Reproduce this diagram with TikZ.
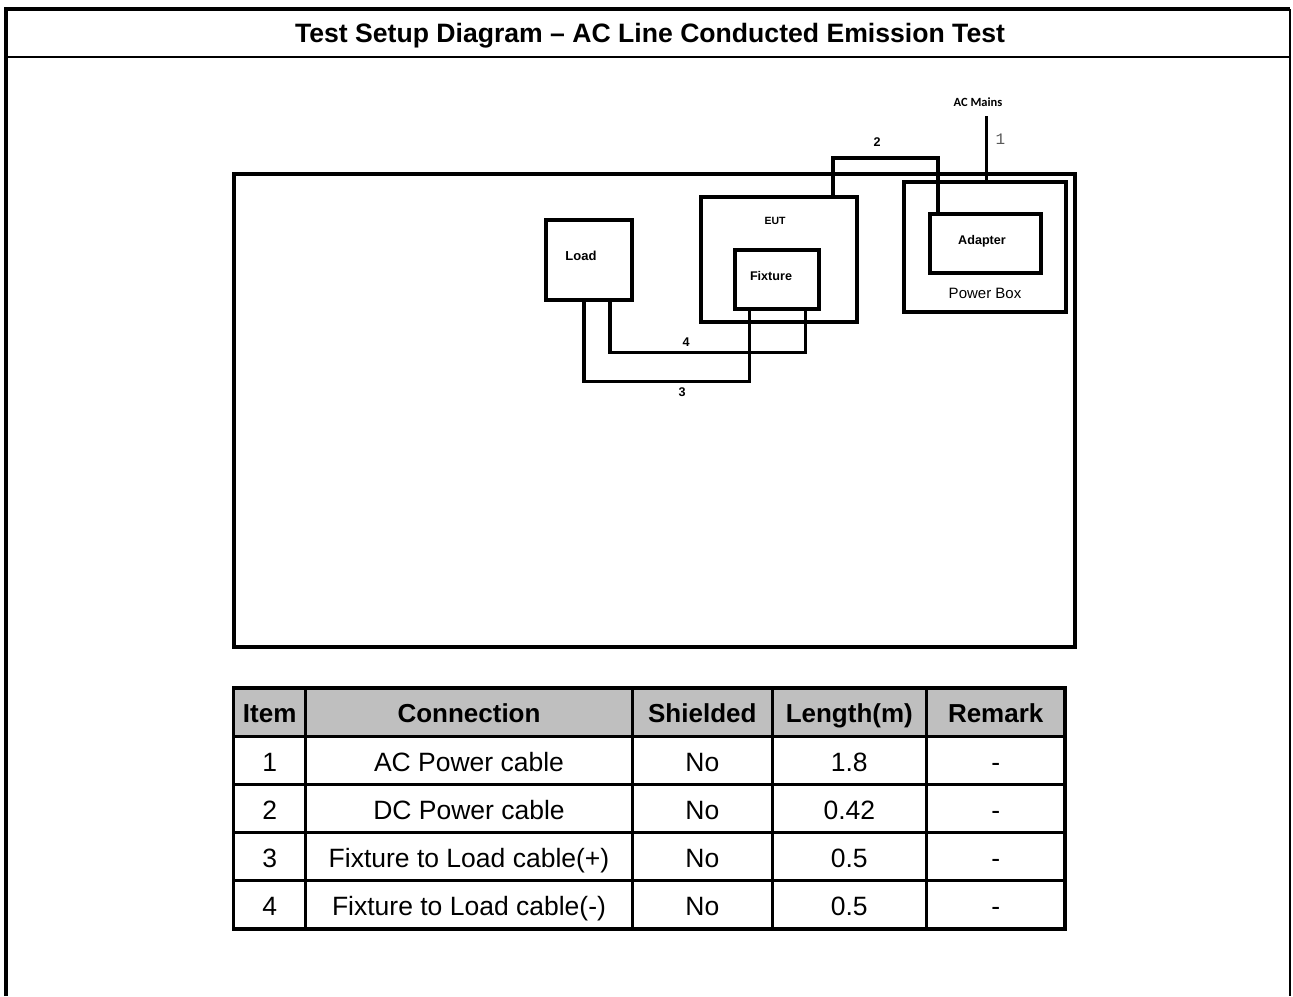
\documentclass[tikz,border=0pt]{standalone}
\usepackage{fontspec}
\setmainfont{Liberation Sans}
\newfontfamily\mainsfont{Carlito}
\newfontfamily\wirefont{Liberation Mono}

\tikzset{
  unitbox/.style={draw,line width=3.5pt,inner sep=0pt},
  cable/.style={line width=3.5pt},
  tag/.style={font=\bfseries\fontsize{12.6}{14}\selectfont,inner sep=0pt},
  wirenum/.style={font=\wirefont\fontsize{16}{18}\selectfont,text=black!65,inner sep=0pt},
  head/.style={anchor=base,font=\bfseries\fontsize{26}{30}\selectfont,inner sep=0pt},
  cell/.style={anchor=base,font=\fontsize{26.5}{30}\selectfont,inner sep=0pt}
}

\begin{document}
\begin{tikzpicture}[x=1pt,y=-1pt,line join=miter]
  \useasboundingbox (0,0) rectangle (1293,996);
  % frame and title
  \draw[line width=4pt] (6,996) -- (6,9) -- (1290,9);
  \draw[line width=2.5pt] (1290,9) -- (1290,996);
  \draw[line width=2.5pt] (6,57) -- (1290,57);
  \node[anchor=base,font=\bfseries\fontsize{26.6}{30}\selectfont,inner sep=0pt] (title) at (650,42) {Test Setup Diagram – AC Line Conducted Emission Test};

  % test table with the units on it
  \node[unitbox,minimum width=841pt,minimum height=473pt] (plane) at (654.5,410.5) {};
  \node[unitbox,minimum width=162pt,minimum height=130pt] (powerbox) at (985,247) {};
  \node[unitbox,minimum width=111pt,minimum height=59pt] (adapter) at (985.5,243.5) {};
  \node[unitbox,minimum width=156pt,minimum height=125pt] (eut) at (779,259.5) {};
  \node[unitbox,minimum width=84pt,minimum height=59pt] (fixture) at (777,279.5) {};
  \node[unitbox,minimum width=86pt,minimum height=80pt] (load) at (589,260) {};

  \node[tag] (adapterlbl) at (982,241) {Adapter};
  \node[font=\fontsize{15}{17}\selectfont,inner sep=0pt] (powerlbl) at (985,293) {Power Box};
  \node[tag,font=\bfseries\fontsize{10.5}{12}\selectfont] (eutlbl) at (775,221) {EUT};
  \node[tag] (fixturelbl) at (771,276) {Fixture};
  \node[tag,font=\bfseries\fontsize{13}{15}\selectfont] (loadlbl) at (581,256) {Load};
  \node[font=\mainsfont\bfseries\fontsize{12.5}{14}\selectfont,inner sep=0pt] (mainslbl) at (978,102.5) {AC Mains};

  % cables
  \coordinate (mains) at (986.5,116);
  \draw[cable] (mains) -- (mains |- powerbox.north);
  \coordinate (c2l) at (833,158);
  \coordinate (c2r) at (938,158);
  \draw[cable] (c2l |- eut.north) -- (c2l) -- (c2r) -- (c2r |- adapter.north);
  \coordinate (c4l) at (610,352.5);
  \coordinate (c4r) at (805.5,352.5);
  \draw[cable] (c4l |- load.south) -- (c4l) -- (c4r) -- (c4r |- fixture.south);
  \coordinate (c3l) at (584,381.5);
  \coordinate (c3r) at (749.5,381.5);
  \draw[cable] (c3l |- load.south) -- (c3l) -- (c3r) -- (c3r |- fixture.south);

  \node[wirenum] (w1) at (1000.5,139) {1};
  \node[tag] (w2) at (877,142.5) {2};
  \node[tag] (w4) at (686,342) {4};
  \node[tag] (w3) at (682,392) {3};

  % cable list
  \fill[black!25] (233.7,688) rectangle (1065,736);
  \foreach \y in {736,784,832,880}
    \draw[line width=3pt] (233.7,\y) -- (1065,\y);
  \foreach \x in {305.7,632.3,772.3,926.3}
    \draw[line width=3pt] (\x,688) -- (\x,929);
  \draw[line width=3.5pt] (233.7,688) rectangle (1065,929);

  \node[head] (item0) at (269.7,722) {Item};
  \node[head] (conn0) at (469,722) {Connection};
  \node[head] (shield0) at (702.3,722) {Shielded};
  \node[head] (len0) at (849.3,722) {Length(m)};
  \node[head] (rem0) at (995.7,722) {Remark};
  \foreach \i/\y/\conn/\len in {1/771.5/AC Power cable/1.8,
                                 2/819.5/DC Power cable/0.42,
                                 3/867.5/Fixture to Load cable(+)/0.5,
                                 4/915.5/Fixture to Load cable(-)/0.5} {
    \node[cell] (item\i) at (269.7,\y) {\i};
    \node[cell] (conn\i) at (469,\y) {\conn};
    \node[cell] (shield\i) at (702.3,\y) {No};
    \node[cell] (len\i) at (849.3,\y) {\len};
    \node[cell] (rem\i) at (995.7,\y) {-};
  }
\end{tikzpicture}
\end{document}
